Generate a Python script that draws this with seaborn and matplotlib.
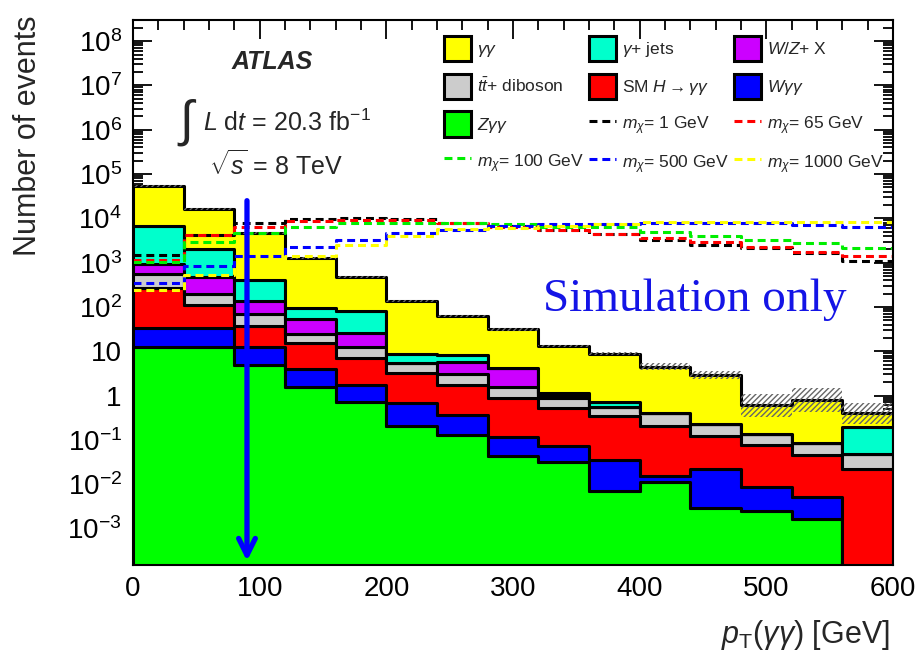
import numpy as np
import pandas as pd
import matplotlib
matplotlib.use("Agg")
import matplotlib.pyplot as plt
import seaborn as sns
from matplotlib.patches import Patch
from matplotlib.lines import Line2D
from matplotlib.ticker import LogLocator, FuncFormatter, MultipleLocator, NullFormatter

# ---------------- data ----------------
bin_edges = [0, 40, 80, 120, 160, 200, 240, 280, 320, 360, 400, 440, 480, 520, 560, 600]

# background processes (events per bin)
gg     = [47200, 14600, 4200, 1204, 384, 129, 55, 27.3, 12.1, 8.2, 4.1, 2.67, 0.465, 0.71, 0.20]
gjets  = [5870, 1520, 262, 43, 56, 3.3, 2.3, 0.0, 0.12, 0.14, 0.0, 0.0, 0.0, 0.0, 0.148]
wzx    = [380, 285, 67, 28, 13.4, 0.0, 2.8, 2.7, 0.13, 0.0, 0.0, 0.0, 0.0, 0.0, 0.0]
ttdib  = [280, 85, 34, 10, 5.7, 2.1, 1.3, 0.69, 0.35, 0.22, 0.19, 0.11, 0.059, 0.042, 0.026]
smh    = [237, 77, 24.4, 11.1, 5.1, 2.6, 1.35, 0.78, 0.45, 0.31, 0.195, 0.098, 0.067, 0.040, 0.022]
wgg    = [20.4, 20.4, 7.7, 2.32, 1.06, 0.48, 0.23, 0.072, 0.040, 0.029, 0.004, 0.019, 0.0062, 0.0036, 0.0]
zgg    = [12.6, 12.6, 4.9, 1.58, 0.72, 0.21, 0.13, 0.043, 0.032, 0.0069, 0.011, 0.0029, 0.0025, 0.0016, 0.0]

# half-width of the hatched uncertainty band (in decades)
unc_dec = [0.02, 0.02, 0.02, 0.02, 0.02, 0.02, 0.02, 0.03, 0.03, 0.04, 0.075, 0.09, 0.26, 0.28, 0.23]

# signal samples
sig_m1    = [1480, 4300, 7900, 9500, 10000, 9800, 7900, 6800, 5500, 4500, 3300, 2570, 2150, 1630, 1090]
sig_m65   = [1170, 4200, 6300, 8600, 9100, 9000, 7900, 6400, 5400, 4350, 3700, 2950, 2250, 1740, 1410]
sig_m100  = [1050, 2950, 4700, 6300, 7900, 7900, 7900, 7300, 6400, 6400, 5000, 4000, 3300, 2800, 2140]
sig_m500  = [340, 830, 1450, 2290, 3300, 4600, 5600, 6900, 7300, 7300, 7900, 7700, 7700, 7000, 6300]
sig_m1000 = [240, 540, 900, 1400, 2570, 4000, 5800, 6200, 6800, 7300, 8300, 8300, 8300, 8300, 8300]

bkg_names = [r"$\gamma\gamma$", r"$\gamma$+ jets", r"$W/Z$+ X", r"$t\bar{t}$+ diboson",
             r"SM $H\rightarrow\gamma\gamma$", r"$W\gamma\gamma$", r"$Z\gamma\gamma$"]
bkg_vals = [gg, gjets, wzx, ttdib, smh, wgg, zgg]
bkg_colors = ["#ffff00", "#00ffcc", "#cc00ff", "#cccccc", "#ff0000", "#0000ff", "#00ff00"]

sig_names = [r"$m_\chi$= 1 GeV", r"$m_\chi$= 65 GeV", r"$m_\chi$= 100 GeV",
             r"$m_\chi$= 500 GeV", r"$m_\chi$= 1000 GeV"]
sig_vals = [sig_m1, sig_m65, sig_m100, sig_m500, sig_m1000]
sig_colors = ["#000000", "#ff0000", "#00ee00", "#0000ff", "#ffff00"]

arrow_x = 90
arrow_top = 2.9e4

# ---------------- style ----------------
sns.set_theme(style="ticks")
plt.rcParams['font.family'] = ['Liberation Sans', 'DejaVu Sans']
plt.rcParams['mathtext.fontset'] = 'custom'
plt.rcParams['mathtext.rm'] = 'Liberation Sans'
plt.rcParams['mathtext.it'] = 'Liberation Sans:italic'
plt.rcParams['mathtext.bf'] = 'Liberation Sans:bold'

fig = plt.figure(figsize=(9.19, 6.61), dpi=100)
ax = fig.add_axes([0.1447, 0.1452, 0.8270, 0.8245])

edges = np.array(bin_edges, dtype=float)
centers = 0.5 * (edges[:-1] + edges[1:])

rows = []
for name, vals in zip(bkg_names, bkg_vals):
    for c, v in zip(centers, vals):
        rows.append((float(c), float(v), name))
df = pd.DataFrame(rows, columns=["pt", "events", "process"])

sns.histplot(data=df, x="pt", weights="events", hue="process", hue_order=bkg_names,
             palette=dict(zip(bkg_names, bkg_colors)), multiple="stack", element="step",
             bins=list(bin_edges), ax=ax, edgecolor="black", linewidth=2.2, alpha=1.0,
             legend=False)
ax.set_yscale("log")

# uncertainty band
total = np.sum(np.array(bkg_vals, dtype=float), axis=0)
u = np.array(unc_dec)
lo = total * 10 ** (-u)
hi = total * 10 ** (u)
ax.fill_between(edges, np.append(lo, lo[-1]), np.append(hi, hi[-1]), step="post",
                facecolor="none", edgecolor="#666666", hatch="//////", linewidth=0, zorder=3)

# signal lines
for vals, col in zip(sig_vals, sig_colors):
    sns.lineplot(x=edges, y=np.append(vals, vals[-1]), drawstyle="steps-post", color=col,
                 linestyle=(0, (2.6, 1.6)), linewidth=2.2, ax=ax, zorder=4)

ax.set_xlim(0, 600)
ax.set_ylim(1.5e-4, 3e8)
ax.set_xlabel("")
ax.set_ylabel("")

# ticks
ax.xaxis.set_major_locator(MultipleLocator(100))
ax.xaxis.set_minor_locator(MultipleLocator(20))
ax.yaxis.set_major_locator(LogLocator(base=10, numticks=20))
ax.yaxis.set_minor_locator(LogLocator(base=10, subs=np.arange(2, 10), numticks=200))
ax.yaxis.set_minor_formatter(NullFormatter())

def yfmt(v, pos):
    n = int(round(np.log10(v)))
    if n == 0:
        return "1"
    if n == 1:
        return "10"
    return r"$10^{%d}$" % n

ax.yaxis.set_major_formatter(FuncFormatter(yfmt))
ax.tick_params(which="both", direction="in", top=True, right=True, colors="black",
               labelsize=20, width=1.3)
ax.tick_params(which="major", length=14, pad=8)
ax.tick_params(which="minor", length=7)
for sp in ax.spines.values():
    sp.set_linewidth(1.5)
    sp.set_color("black")
    sp.set_zorder(10)

# arrow
ax.annotate("", xy=(arrow_x, 1.6e-4), xytext=(arrow_x, arrow_top),
            arrowprops=dict(arrowstyle="->", color="#0000ff", lw=3.8, mutation_scale=30),
            zorder=6)

# texts
ax.text(0.130, 0.923, "ATLAS", transform=ax.transAxes, fontsize=18, fontweight="bold",
        fontstyle="italic", ha="left", va="center")
ax.text(0.058, 0.812, r"$\int$", transform=ax.transAxes, fontsize=36, ha="left", va="center")
ax.text(0.092, 0.812, r"$L$ d$t$ = 20.3 fb$^{-1}$", transform=ax.transAxes, fontsize=18,
        ha="left", va="center")
ax.text(0.100, 0.733, r"$\sqrt{s}$ = 8 TeV", transform=ax.transAxes, fontsize=18,
        ha="left", va="center")
ax.text(0.7395, 0.486, "Simulation only", transform=ax.transAxes, fontsize=34,
        family="Liberation Serif", color="#1414e6", ha="center", va="center")

fig.text(0.030, 0.795, "Number of events", rotation=90, fontsize=22, ha="center", va="center")
fig.text(0.968, 0.040, r"$p_{\mathrm{T}}(\gamma\gamma)$ [GeV]", fontsize=22, ha="right", va="center")

# legend (row-wise in the picture -> reorder for column filling)
patches = [Patch(facecolor=c, edgecolor="black", linewidth=2.2, label=n)
           for n, c in zip(bkg_names, bkg_colors)]
lines = [Line2D([0], [0], color=c, linestyle=(0, (2.6, 1.6)), linewidth=2.2, label=n)
         for n, c in zip(sig_names, sig_colors)]
grid = patches + lines  # 12 entries, row-wise
order = [0, 3, 6, 9, 1, 4, 7, 10, 2, 5, 8, 11]
handles = [grid[i] for i in order]
ax.legend(handles=handles, labels=[h.get_label() for h in handles], ncol=3,
          loc="upper left", bbox_to_anchor=(0.400, 0.984), frameon=False, fontsize=12.5,
          handlelength=1.55, handleheight=1.9, labelspacing=0.7, columnspacing=0.3,
          handletextpad=0.35, borderaxespad=0)

fig.savefig("out.png", dpi=100)
